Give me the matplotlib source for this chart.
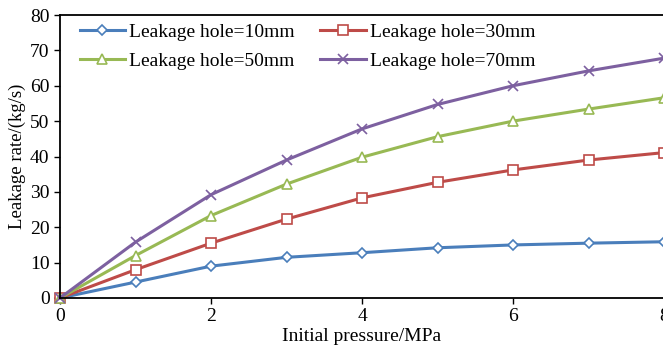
import matplotlib
matplotlib.use('Agg')
import matplotlib.pyplot as plt

plt.rcParams['font.family'] = ['Liberation Serif', 'DejaVu Serif']

pressure = [0, 1, 2, 3, 4, 5, 6, 7, 8]
hole_10 = [0, 4.5, 9.0, 11.5, 12.8, 14.2, 15.0, 15.5, 15.9]
hole_30 = [0, 8.0, 15.5, 22.3, 28.3, 32.7, 36.2, 39.0, 41.1]
hole_50 = [0, 12.0, 23.3, 32.2, 39.8, 45.6, 50.0, 53.4, 56.6]
hole_70 = [0, 15.8, 29.2, 39.0, 47.8, 54.7, 60.0, 64.2, 67.8]

labels = ['Leakage hole=10mm', 'Leakage hole=30mm', 'Leakage hole=50mm', 'Leakage hole=70mm']
colors = ['#4A7EBB', '#BE4B48', '#98B954', '#7D60A0']
markers = ['D', 's', '^', 'x']
sizes = [5, 6.5, 7.5, 7.5]

fig = plt.figure(figsize=(6.63, 3.45), dpi=100)
ax = fig.add_axes([60 / 663, 47 / 345, 604 / 663, 283 / 345])

series = [hole_10, hole_30, hole_50, hole_70]
lines = []
for y, lab, c, m, s in zip(series, labels, colors, markers, sizes):
    ln, = ax.plot(pressure, y, color=c, lw=2.2, marker=m, ms=s, mfc='white',
                  mec=c, mew=1.2, label=lab, clip_on=False)
    lines.append(ln)

ax.set_xlim(0, 8)
ax.set_ylim(0, 80)
ax.set_xticks([0, 2, 4, 6, 8])
ax.set_yticks(range(0, 81, 10))
ax.tick_params(direction='out', labelsize=14, length=4, width=1)
for sp in ax.spines.values():
    sp.set_linewidth(1.3)

ax.set_xlabel('Initial pressure/MPa', fontsize=14, labelpad=2)
ax.set_ylabel('Leakage rate/(kg/s)', fontsize=13.5, labelpad=3)

# row-wise legend order: 10, 30 / 50, 70
order = [0, 2, 1, 3]
ax.legend([lines[i] for i in order], [labels[i] for i in order],
          ncol=2, loc='upper left', bbox_to_anchor=(0.01, 1.02), frameon=False,
          fontsize=14, handlelength=2.35, handletextpad=0.2, columnspacing=1.3,
          labelspacing=0.6, borderaxespad=0.3)

fig.savefig('out.png', dpi=100)
